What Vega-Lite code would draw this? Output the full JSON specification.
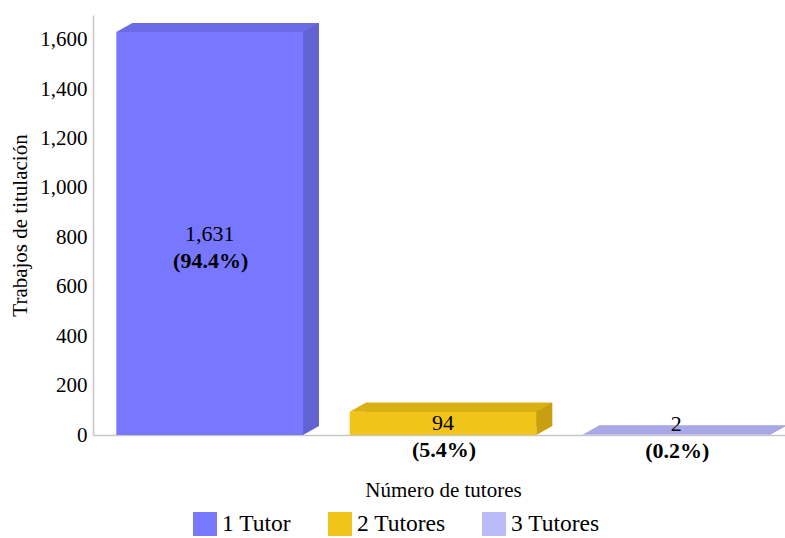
{
  "$schema": "https://vega.github.io/schema/vega-lite/v6.json",
  "width": 692,
  "height": 420,
  "autosize": {"type": "none"},
  "padding": {"left": 93, "top": 15, "right": 0, "bottom": 103},
  "background": "white",
  "data": {
    "values": [
      {"tutores": "1 Tutor", "n": 1631, "pct": 94.4},
      {"tutores": "2 Tutores", "n": 94, "pct": 5.4},
      {"tutores": "3 Tutores", "n": 2, "pct": 0.2}
    ]
  },
  "transform": [
    {"calculate": "max(datum.n / 2, 45)", "as": "mid"},
    {"calculate": "'(' + format(datum.pct, '.1f') + '%)'", "as": "pctLabel"}
  ],
  "config": {
    "font": "Liberation Serif",
    "view": {"stroke": null},
    "axis": {"grid": false, "domainColor": "#c8c8c8", "domainWidth": 1.5, "ticks": false}
  },
  "encoding": {
    "x": {
      "field": "tutores",
      "type": "nominal",
      "sort": null,
      "scale": {"range": [0, 700], "paddingInner": 0.2, "paddingOuter": 0.1},
      "axis": {
        "title": "Número de tutores",
        "labels": false,
        "titleFont": "Liberation Serif",
        "titleFontSize": 21,
        "titleFontWeight": "normal",
        "titleColor": "#000",
        "titlePadding": 44
      }
    }
  },
  "layer": [
    {
      "mark": {"type": "bar", "xOffset": 16, "x2Offset": 16, "yOffset": -9, "y2Offset": -9},
      "encoding": {
        "y": {
          "field": "n",
          "type": "quantitative",
          "scale": {"domain": [0, 1700], "nice": false},
          "axis": {
            "title": "Trabajos de titulación",
            "values": [0, 200, 400, 600, 800, 1000, 1200, 1400, 1600],
            "format": ",d",
            "labelFont": "Liberation Serif",
            "labelFontSize": 21,
            "labelColor": "#000",
            "labelPadding": 6,
            "titleFont": "Liberation Serif",
            "titleFontSize": 21,
            "titleFontWeight": "normal",
            "titleColor": "#000",
            "titlePadding": 9
          }
        },
        "color": {
          "field": "tutores",
          "type": "nominal",
          "sort": null,
          "legend": null,
          "scale": {"domain": ["1 Tutor", "2 Tutores", "3 Tutores"], "range": ["#6262d2", "#c89f10", "#9c9ce0"]}
        }
      }
    },
    {
      "mark": {
        "type": "point",
        "filled": true,
        "opacity": 1,
        "strokeWidth": 0,
        "size": 34844,
        "shape": "M 1 0 L 1 -0.0964 L 1.1714 -0.0964 Z"
      },
      "encoding": {
        "y": {"datum": 0, "type": "quantitative"},
        "color": {
          "field": "tutores",
          "type": "nominal",
          "sort": null,
          "legend": null,
          "scale": {"domain": ["1 Tutor", "2 Tutores", "3 Tutores"], "range": ["#6262d2", "#c89f10", "#9c9ce0"]}
        }
      }
    },
    {
      "mark": {"type": "bar"},
      "encoding": {
        "y": {"field": "n", "type": "quantitative"},
        "color": {
          "field": "tutores",
          "type": "nominal",
          "sort": null,
          "title": null,
          "scale": {"domain": ["1 Tutor", "2 Tutores", "3 Tutores"], "range": ["#7777ff", "#f0c418", "#bbbbfa"]},
          "legend": {
            "orient": "none",
            "legendX": 100,
            "legendY": 497,
            "direction": "horizontal",
            "symbolType": "square",
            "symbolSize": 576,
            "symbolStrokeWidth": 0,
            "symbolOpacity": 1,
            "labelFont": "Liberation Serif",
            "labelFontSize": 23.5,
            "labelColor": "#000",
            "labelOffset": 5,
            "columnPadding": 36,
            "padding": 0
          }
        }
      }
    },
    {
      "mark": {
        "type": "point",
        "filled": true,
        "opacity": 1,
        "strokeWidth": 0,
        "size": 34844,
        "shape": "M -1 0 L 1 0 L 1.1714 -0.0964 L -0.8286 -0.0964 Z"
      },
      "encoding": {
        "y": {"field": "n", "type": "quantitative"},
        "color": {
          "field": "tutores",
          "type": "nominal",
          "sort": null,
          "legend": null,
          "scale": {"domain": ["1 Tutor", "2 Tutores", "3 Tutores"], "range": ["#6b6be6", "#dab014", "#a8a8e6"]}
        }
      }
    },
    {
      "mark": {"type": "text", "font": "Liberation Serif", "fontSize": 22, "color": "#000", "baseline": "middle"},
      "encoding": {
        "y": {"field": "mid", "type": "quantitative"},
        "text": {"field": "n", "type": "quantitative", "format": ",d"}
      }
    },
    {
      "mark": {"type": "text", "font": "Liberation Serif", "fontSize": 22, "fontWeight": "bold", "color": "#000", "baseline": "middle", "dy": 27, "dx": 1},
      "encoding": {
        "y": {"field": "mid", "type": "quantitative"},
        "text": {"field": "pctLabel", "type": "nominal"}
      }
    }
  ],
  "resolve": {"scale": {"color": "independent"}}
}
